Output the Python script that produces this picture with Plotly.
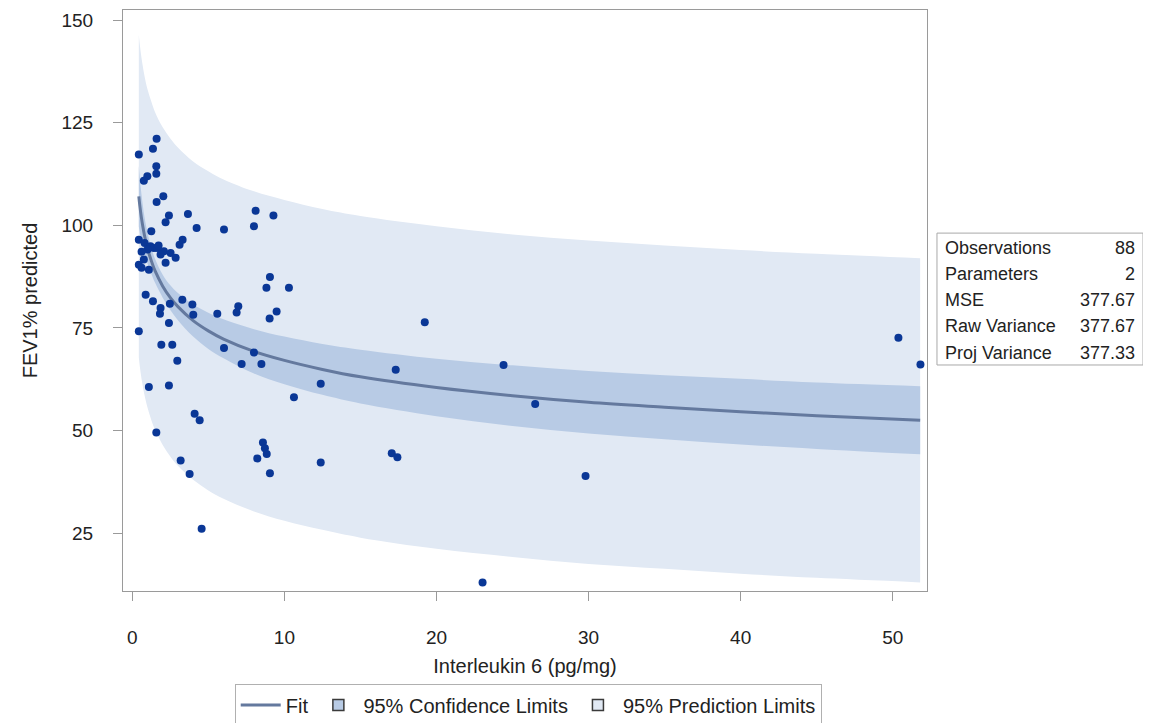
import plotly.graph_objects as go

il6 = [1.60, 0.43, 1.36, 1.58, 1.58, 0.99, 0.76, 2.04, 1.60, 2.41, 2.19, 3.66, 4.23, 6.03, 1.25,
       0.43, 0.81, 1.20, 1.42, 1.64, 2.08, 2.52, 2.85, 3.11, 3.31, 0.43, 0.76, 1.09, 2.19, 1.86,
       0.88, 1.36, 1.86, 1.82, 2.47, 3.29, 3.95, 4.01, 5.59, 2.41, 0.43, 1.91, 2.63, 6.03, 2.96,
       1.09, 2.41, 4.10, 4.43, 1.58, 3.18, 3.77, 4.56, 8.11, 9.28, 8.00, 9.05, 8.82, 10.30, 6.97,
       6.86, 9.49, 9.03, 19.23, 8.00, 7.19, 8.49, 12.39, 10.63, 17.32, 8.59, 8.72, 8.84, 8.22, 9.05,
       12.39, 17.06, 17.43, 24.41, 26.49, 29.80, 23.03, 50.37, 51.82, 1.73, 1.01, 0.61, 0.61]
fev1 = [121.1, 117.3, 118.7, 114.4, 112.6, 112.0, 110.9, 107.1, 105.7, 102.4, 100.8, 102.8, 99.4, 99.0, 98.6,
        96.5, 95.7, 94.9, 94.5, 94.5, 93.7, 93.3, 92.1, 95.3, 96.5, 90.4, 91.7, 89.2, 90.9, 92.9,
        83.1, 81.5, 79.9, 78.5, 80.9, 81.9, 80.7, 78.2, 78.5, 76.2, 74.2, 70.9, 70.9, 70.1, 67.0,
        60.6, 61.0, 54.1, 52.5, 49.5, 42.7, 39.4, 26.1, 103.6, 102.4, 99.8, 87.4, 84.8, 84.8, 80.3,
        78.8, 79.0, 77.3, 76.4, 69.0, 66.2, 66.2, 61.4, 58.1, 64.8, 47.1, 45.7, 44.3, 43.2, 39.6,
        42.2, 44.5, 43.5, 66.0, 56.5, 38.9, 13.0, 72.6, 66.1, 95.1, 94.1, 93.6, 89.7]

# ---- fit curve and limits ----
grid_x = [0.43, 0.5, 0.6, 0.7, 0.8, 1.0, 1.25, 1.5, 2, 2.5, 3, 4, 5, 6, 8, 10, 12.5, 15, 20,
          25, 30, 35, 40, 45, 51.8]
fit_y = [107.1, 104.7, 101.9, 99.6, 97.6, 94.4, 91.4, 88.9, 85.2, 82.4, 80.2, 76.8, 74.3, 72.3,
         69.3, 67.1, 64.9, 63.1, 60.5, 58.5, 56.9, 55.7, 54.6, 53.6, 52.5]
cl_up = [114.5, 111.3, 107.7, 104.7, 102.1, 98.2, 94.6, 91.8, 88.0, 85.4, 83.5, 80.7, 78.7, 77.1,
         74.7, 72.9, 71.1, 69.7, 67.5, 65.9, 64.5, 63.5, 62.6, 61.7, 60.8]
cl_lo = [99.7, 98.1, 96.1, 94.5, 93.1, 90.7, 88.2, 86.0, 82.4, 79.4, 76.9, 72.9, 69.9, 67.6,
         63.9, 61.3, 58.7, 56.6, 53.5, 51.1, 49.3, 47.9, 46.6, 45.5, 44.2]
pl_up = [146.4, 143.9, 141.0, 138.6, 136.5, 133.2, 130.2, 127.6, 123.9, 121.2, 119.0, 115.6, 113.2,
         111.2, 108.3, 106.2, 104.0, 102.3, 99.8, 97.8, 96.3, 95.1, 94.0, 93.1, 92.0]
pl_lo = [67.8, 65.5, 62.8, 60.6, 58.7, 55.6, 52.6, 50.2, 46.5, 43.7, 41.4, 38.0, 35.4, 33.4,
         30.3, 28.0, 25.8, 23.9, 21.2, 19.2, 17.5, 16.3, 15.1, 14.1, 13.0]

x_ticks = [0, 10, 20, 30, 40, 50]
y_ticks = [25, 50, 75, 100, 125, 150]

stat_labels = ["Observations", "Parameters", "MSE", "Raw Variance", "Proj Variance"]
stat_values = ["88", "2", "377.67", "377.67", "377.33"]

PL_COLOR = "#e1e9f4"
CL_COLOR = "#b8cbe5"
FIT_COLOR = "#64799e"
DOT_COLOR = "#0a3796"
FONT = "Liberation Sans, Arial, sans-serif"
TXT = "#222222"

fig = go.Figure()
fig.add_trace(go.Scatter(x=grid_x, y=pl_lo, mode="lines", line=dict(width=0, shape="spline"),
                         showlegend=False, hoverinfo="skip"))
fig.add_trace(go.Scatter(x=grid_x, y=pl_up, mode="lines", line=dict(width=0, shape="spline"),
                         fill="tonexty", fillcolor=PL_COLOR, showlegend=False))
fig.add_trace(go.Scatter(x=grid_x, y=cl_lo, mode="lines", line=dict(width=0, shape="spline"),
                         showlegend=False, hoverinfo="skip"))
fig.add_trace(go.Scatter(x=grid_x, y=cl_up, mode="lines", line=dict(width=0, shape="spline"),
                         fill="tonexty", fillcolor=CL_COLOR, showlegend=False))
fig.add_trace(go.Scatter(x=grid_x, y=fit_y, mode="lines",
                         line=dict(color=FIT_COLOR, width=3, shape="spline"),
                         name="Fit", legendrank=1))
fig.add_trace(go.Scatter(x=il6, y=fev1, mode="markers",
                         marker=dict(color=DOT_COLOR, size=8), showlegend=False))
# legend swatches
fig.add_trace(go.Scatter(x=[None], y=[None], mode="markers", name="95% Confidence Limits",
                         marker=dict(symbol="square", size=11, color=CL_COLOR,
                                     line=dict(color="#3a3a3a", width=1.5)), legendrank=2))
fig.add_trace(go.Scatter(x=[None], y=[None], mode="markers", name="95% Prediction Limits",
                         marker=dict(symbol="square", size=11, color=PL_COLOR,
                                     line=dict(color="#3a3a3a", width=1.5)), legendrank=3))

axis_common = dict(showline=True, linecolor="#9a9a9a", linewidth=1, mirror=True,
                   ticks="outside", ticklen=9, tickcolor="#9a9a9a", showgrid=False,
                   zeroline=False, tickfont=dict(size=19, color=TXT, family=FONT))
fig.update_xaxes(range=[-0.61, 52.25], tickvals=x_ticks, ticklabelstandoff=20,
                 title=dict(text="Interleukin 6 (pg/mg)", font=dict(size=20, color=TXT, family=FONT),
                            standoff=12),
                 **axis_common)
fig.update_yaxes(range=[10.9, 152.5], tickvals=y_ticks, ticklabelstandoff=16,
                 title=dict(text="FEV1% predicted", font=dict(size=20, color=TXT, family=FONT),
                            standoff=18),
                 **axis_common)

# stats inset
fig.add_shape(type="rect", xref="paper", yref="paper", x0=1.0124, x1=1.2687, y0=0.389, y1=0.616,
              line=dict(color="#a8a8a8", width=1), fillcolor="white")
row_y = [0.5904, 0.5456, 0.5009, 0.4561, 0.4096]
for lab, val, yy in zip(stat_labels, stat_values, row_y):
    fig.add_annotation(xref="paper", yref="paper", x=1.0199, y=yy, text=lab, showarrow=False,
                       xanchor="left", yanchor="middle", font=dict(size=18, color=TXT, family=FONT))
    fig.add_annotation(xref="paper", yref="paper", x=1.2612, y=yy, text=val, showarrow=False,
                       xanchor="right", yanchor="middle", font=dict(size=18, color=TXT, family=FONT))

fig.update_layout(
    width=1151, height=723,
    margin=dict(l=115, r=232, t=2, b=140),
    paper_bgcolor="white", plot_bgcolor="white",
    font=dict(family=FONT, color=TXT),
    legend=dict(orientation="h", x=0.504, xanchor="center", y=-0.196, yanchor="middle",
                bordercolor="#b0b0b0", borderwidth=1, font=dict(size=20, color=TXT, family=FONT),
                itemwidth=40, traceorder="normal"),
)

fig.write_html("out.html")
